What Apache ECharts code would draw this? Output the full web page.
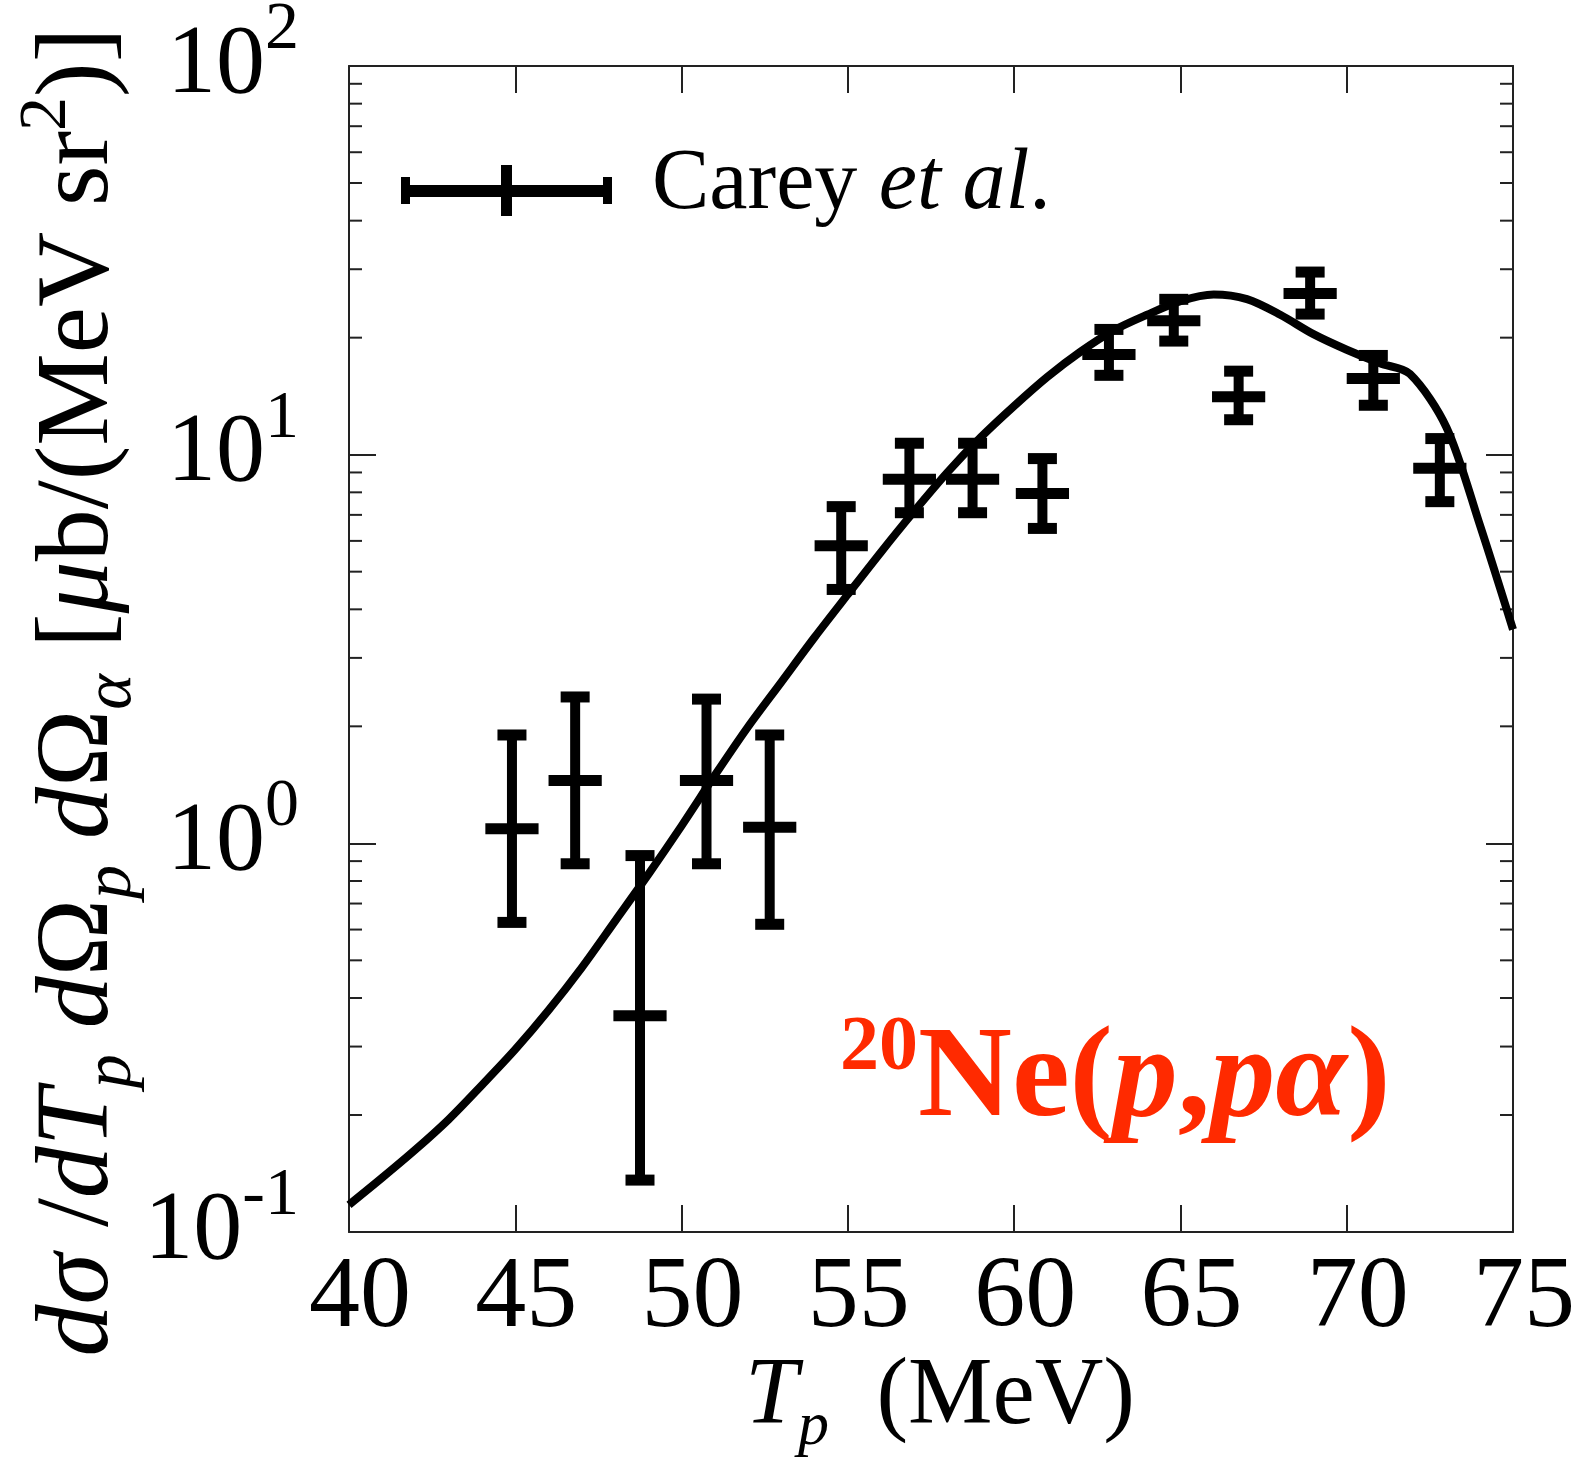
<!DOCTYPE html>
<html>
<head>
<meta charset="utf-8">
<script src="https://cdn.jsdelivr.net/npm/echarts@6/dist/echarts.min.js"></script>
<style>
  html, body { margin: 0; padding: 0; background: #fff; }
  #main { width: 1584px; height: 1459px; }
</style>
</head>
<body>
<div id="main"></div>
<script>
// Carey et al. data points
var tp = [44.9, 46.8, 48.75, 50.75, 52.65, 54.8, 56.85, 58.75, 60.85, 62.85, 64.8, 66.75, 68.9, 70.8, 72.8];
var sigma = [1.09, 1.45, 0.36, 1.45, 1.10, 5.83, 8.65, 8.65, 7.95, 18.1, 22.1, 14.1, 26.0, 15.7, 9.22];
var sigmaLow = [0.626, 0.886, 0.136, 0.886, 0.619, 4.50, 7.09, 7.09, 6.46, 16.0, 19.6, 12.3, 23.0, 13.4, 7.57];
var sigmaHigh = [1.90, 2.38, 0.93, 2.35, 1.90, 7.35, 10.7, 10.7, 9.77, 21.0, 25.1, 16.4, 29.5, 18.0, 11.0];
var tpErr = [0.8, 0.8, 0.8, 0.8, 0.8, 0.8, 0.8, 0.8, 0.8, 0.8, 0.8, 0.8, 0.8, 0.8, 0.8];

// calculation (solid curve)
var curveTp = [40, 41, 42, 43, 44, 45, 46, 47, 48, 49, 50, 51, 52, 53, 54, 55, 56, 57, 58, 59,
               60, 61, 62, 63, 64, 65, 66, 67, 68, 69, 70, 71, 71.9, 73, 74, 75];
var curveSigma = [0.1175, 0.1380, 0.1630, 0.1950, 0.2390, 0.295, 0.372, 0.479, 0.631, 0.832,
                  1.109, 1.496, 1.995, 2.60, 3.39, 4.37, 5.62, 7.16, 9.02, 11.09,
                  13.34, 15.85, 18.41, 20.89, 22.91, 24.83, 25.82, 25.12, 22.91, 20.42,
                  18.62, 17.18, 16.14, 11.75, 6.61, 3.55];

var decades = [0.1, 1, 10];
var xMin = 40, xMax = 75;

var FONT = 'Liberation Serif';
var RED = '#ff2a00';

// minor ticks of the log axis (2..9 x decade)
var minorTicks = [];
decades.forEach(function (d) {
  for (var k = 2; k <= 9; k++) minorTicks.push([xMin, d * k]);
});

var errData = tp.map(function (t, i) {
  return [t, sigma[i], sigmaLow[i], sigmaHigh[i], tpErr[i]];
});
var curveData = curveTp.map(function (t, i) { return [t, curveSigma[i]]; });

var chart = echarts.init(document.getElementById('main'));

function renderErr(params, api) {
  var x = api.value(0), y = api.value(1), lo = api.value(2), hi = api.value(3), dx = api.value(4);
  var c = api.coord([x, y]);
  var pLo = api.coord([x, lo]);
  var pHi = api.coord([x, hi]);
  var pL = api.coord([x - dx, y]);
  var pR = api.coord([x + dx, y]);
  var bw = 10, capW = 29, capH = 11, crossH = 11;
  var st = { fill: '#000' };
  return {
    type: 'group',
    children: [
      { type: 'rect', shape: { x: c[0] - bw / 2, y: pHi[1], width: bw, height: pLo[1] - pHi[1] }, style: st },
      { type: 'rect', shape: { x: c[0] - capW / 2, y: pHi[1] - capH / 2, width: capW, height: capH }, style: st },
      { type: 'rect', shape: { x: c[0] - capW / 2, y: pLo[1] - capH / 2, width: capW, height: capH }, style: st },
      { type: 'rect', shape: { x: pL[0], y: c[1] - crossH / 2, width: pR[0] - pL[0], height: crossH }, style: st }
    ]
  };
}

function renderMinor(params, api) {
  var v = api.value(1);
  var l = api.coord([xMin, v]);
  var r = api.coord([xMax, v]);
  var ls = { stroke: '#222', lineWidth: 2 };
  return {
    type: 'group',
    children: [
      { type: 'line', shape: { x1: l[0], y1: l[1], x2: l[0] + 13, y2: l[1] }, style: ls },
      { type: 'line', shape: { x1: r[0] - 13, y1: r[1], x2: r[0], y2: r[1] }, style: ls }
    ]
  };
}

var axisLine = { show: true, onZero: false, lineStyle: { color: '#222', width: 2 } };
var axisTick = { show: true, inside: true, length: 27, lineStyle: { color: '#222', width: 2 } };

chart.setOption({
  backgroundColor: '#fff',
  animation: false,
  grid: { left: 349, top: 66, width: 1164, height: 1166, containLabel: false, outerBoundsMode: 'none' },
  xAxis: [
    {
      type: 'value', position: 'bottom', min: xMin, max: xMax, interval: 5,
      axisLine: axisLine, axisTick: axisTick, splitLine: { show: false },
      axisLabel: { margin: 16, fontSize: 102, fontFamily: FONT, color: '#000', padding: [0, 0, 0, 22] }
    },
    {
      type: 'value', position: 'top', min: xMin, max: xMax, interval: 5,
      axisLine: axisLine, axisTick: axisTick, splitLine: { show: false },
      axisLabel: { show: false }
    }
  ],
  yAxis: [
    {
      type: 'log', logBase: 10, min: 0.1, max: 100, position: 'left',
      axisLine: axisLine, axisTick: axisTick, splitLine: { show: false },
      axisLabel: {
        margin: 50,
        formatter: function (v) {
          var e = Math.round(Math.log10(v));
          return '{b|10}{s|' + e + '}';
        },
        rich: {
          b: { fontSize: 98, fontFamily: FONT, color: '#000', lineHeight: 140 },
          s: { fontSize: 68, fontFamily: FONT, color: '#000', lineHeight: 68, verticalAlign: 'top' }
        }
      }
    },
    {
      type: 'log', logBase: 10, min: 0.1, max: 100, position: 'right',
      axisLine: axisLine, axisTick: axisTick, splitLine: { show: false },
      axisLabel: { show: false }
    }
  ],
  series: [
    {
      type: 'custom', name: 'minor', renderItem: renderMinor, data: minorTicks,
      encode: { x: 0, y: 1 }, silent: true, clip: false, z: 1
    },
    {
      type: 'line', name: 'calc', data: curveData, showSymbol: false, smooth: 0.3,
      lineStyle: { color: '#000', width: 8 }, clip: true, z: 3
    },
    {
      type: 'custom', name: 'Carey et al.', renderItem: renderErr, data: errData,
      encode: { x: 0, y: 1 }, clip: true, z: 4
    }
  ],
  graphic: [
    // legend
    { type: 'rect', shape: { x: 401, y: 185, width: 211, height: 12 }, style: { fill: '#000' } },
    { type: 'rect', shape: { x: 401, y: 177, width: 9, height: 27 }, style: { fill: '#000' } },
    { type: 'rect', shape: { x: 603, y: 177, width: 9, height: 27 }, style: { fill: '#000' } },
    { type: 'rect', shape: { x: 501, y: 165, width: 11, height: 51 }, style: { fill: '#000' } },
    {
      type: 'text', x: 652, y: 185,
      style: {
        text: '{n|Carey }{i|et al}{n|.}',
        align: 'left', verticalAlign: 'middle',
        rich: {
          n: { fontSize: 86, fontFamily: FONT, fill: '#000', lineHeight: 94 },
          i: { fontSize: 86, fontFamily: FONT, fontStyle: 'italic', fill: '#000', lineHeight: 94 }
        }
      }
    },
    // reaction label
    {
      type: 'text', x: 840, y: 1010,
      style: {
        text: '{s|20}{n|Ne(}{i|p}{n|,}{i|pα}{n|)}',
        align: 'left', verticalAlign: 'top',
        rich: {
          s: { fontSize: 78, fontWeight: 'bold', fontFamily: FONT, fill: RED, lineHeight: 78, verticalAlign: 'top' },
          n: { fontSize: 130, fontWeight: 'bold', fontFamily: FONT, fill: RED, lineHeight: 142 },
          i: { fontSize: 130, fontWeight: 'bold', fontStyle: 'italic', fontFamily: FONT, fill: RED, lineHeight: 142 }
        }
      }
    },
    // x axis title
    {
      type: 'text', x: 940, y: 1398,
      style: {
        text: '{i|T}{sub|p}{n|  (MeV)}',
        align: 'center', verticalAlign: 'middle',
        rich: {
          i: { fontSize: 95, fontStyle: 'italic', fontFamily: FONT, fill: '#000', lineHeight: 122 },
          sub: { fontSize: 62, fontStyle: 'italic', fontFamily: FONT, fill: '#000', lineHeight: 62, verticalAlign: 'bottom' },
          n: { fontSize: 95, fontFamily: FONT, fill: '#000', lineHeight: 122 }
        }
      }
    },
    // y axis title
    {
      type: 'text', x: 80, y: 692, rotation: Math.PI / 2,
      style: {
        text: '{i|dσ}{n| /}{i|dT}{sub|p}{i| d}{n|Ω}{sub|p}{i| d}{n|Ω}{sub|α}{n| [}{i|μ}{n|b/(MeV sr}{sup|2}{n|)]}',
        align: 'center', verticalAlign: 'middle',
        rich: {
          i: { fontSize: 104, fontStyle: 'italic', fontFamily: FONT, fill: '#000', lineHeight: 133 },
          n: { fontSize: 104, fontFamily: FONT, fill: '#000', lineHeight: 133 },
          sub: { fontSize: 68, fontStyle: 'italic', fontFamily: FONT, fill: '#000', lineHeight: 68, verticalAlign: 'bottom' },
          sup: { fontSize: 68, fontFamily: FONT, fill: '#000', lineHeight: 68, verticalAlign: 'top' }
        }
      }
    }
  ]
});
</script>
</body>
</html>
